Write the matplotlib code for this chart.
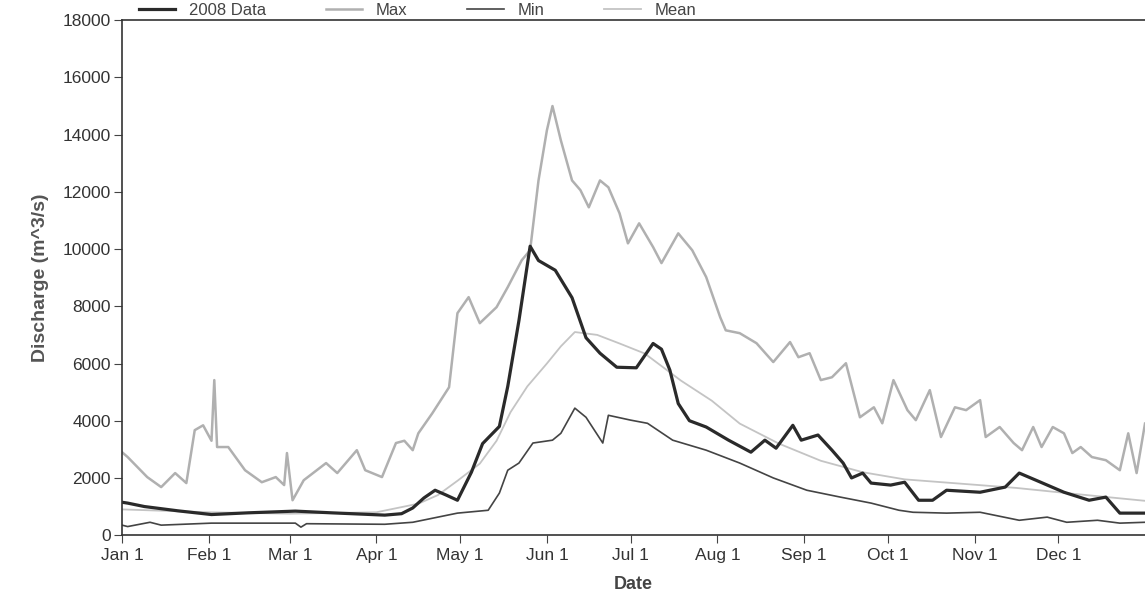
import matplotlib
matplotlib.use("Agg")
from matplotlib import pyplot as plt

plt.rcParams['font.family'] = ['Liberation Sans', 'DejaVu Sans']

# month ticks (day of year, 2008)
month_days = [0, 31, 60, 91, 121, 152, 182, 213, 244, 274, 305, 335]
month_labels = ["Jan 1", "Feb 1", "Mar 1", "Apr 1", "May 1", "Jun 1",
                "Jul 1", "Aug 1", "Sep 1", "Oct 1", "Nov 1", "Dec 1"]

# 2008 observed discharge
data_days = [0, 2, 8, 20, 32, 45, 62, 75, 94, 100, 104, 108, 112, 116, 120, 125,
             129, 135, 138, 142, 146, 149, 155, 161, 166, 171, 177, 184, 190, 193,
             196, 199, 203, 209, 217, 225, 230, 234, 240, 243, 249, 254, 258, 261,
             265, 268, 275, 280, 285, 290, 295, 307, 316, 321, 327, 337, 346, 352,
             357, 366]
data_vals = [1150, 1120, 1000, 850, 720, 780, 840, 780, 700, 750, 950, 1300, 1570,
             1400, 1220, 2200, 3200, 3800, 5200, 7500, 10100, 9600, 9260, 8300, 6900,
             6360, 5870, 5850, 6700, 6500, 5770, 4600, 4000, 3780, 3320, 2900, 3320,
             3040, 3840, 3320, 3500, 2970, 2520, 2000, 2170, 1820, 1750, 1850, 1220,
             1220, 1570, 1500, 1680, 2170, 1920, 1500, 1220, 1330, 770, 770]

# historical max
max_days = [0, 2, 9, 14, 19, 23, 26, 29, 32, 33, 34, 38, 44, 50, 55, 58, 59, 61, 65,
            73, 77, 84, 87, 93, 98, 101, 104, 106, 111, 117, 120, 124, 128, 134, 138,
            143, 146, 149, 152, 154, 157, 161, 164, 167, 171, 174, 178, 181, 185, 190,
            193, 199, 204, 209, 214, 216, 221, 227, 233, 239, 242, 246, 250, 254, 259,
            264, 269, 272, 276, 281, 284, 289, 293, 298, 302, 307, 309, 314, 319, 322,
            326, 329, 333, 337, 340, 343, 347, 352, 357, 360, 363, 366]
max_vals = [2900, 2730, 2030, 1680, 2170, 1820, 3670, 3840, 3300, 5420, 3080, 3080,
            2270, 1850, 2030, 1750, 2870, 1220, 1920, 2520, 2170, 2970, 2270, 2030,
            3220, 3300, 2970, 3560, 4260, 5170, 7760, 8320, 7410, 7970, 8670, 9610,
            9960, 12400, 14150, 15000, 13800, 12400, 12060, 11460, 12400, 12160, 11250,
            10200, 10900, 10070, 9510, 10550, 9960, 9020, 7620, 7160, 7060, 6710, 6050,
            6750, 6220, 6360, 5420, 5520, 6010, 4120, 4470, 3910, 5420, 4370, 4020,
            5070, 3430, 4470, 4370, 4720, 3430, 3780, 3220, 2970, 3780, 3080, 3780,
            3560, 2870, 3080, 2730, 2620, 2270, 3560, 2170, 3900]

# historical min
min_days = [0, 2, 10, 14, 32, 62, 64, 66, 94, 104, 120, 131, 135, 138, 142, 147, 154,
            157, 162, 166, 172, 174, 182, 188, 197, 209, 221, 233, 245, 257, 268, 278,
            283, 295, 307, 321, 331, 338, 349, 357, 366]
min_vals = [350, 300, 450, 350, 420, 420, 280, 400, 380, 450, 770, 870, 1470, 2270,
            2520, 3220, 3320, 3560, 4440, 4120, 3220, 4190, 4020, 3910, 3320, 2970,
            2520, 2000, 1570, 1330, 1120, 870, 800, 770, 800, 520, 630, 450, 520, 420,
            450]

# historical mean
mean_days = [0, 31, 60, 91, 106, 113, 120, 128, 134, 139, 145, 152, 157, 162, 170,
             178, 187, 200, 211, 221, 235, 250, 265, 280, 300, 320, 340, 366]
mean_vals = [900, 800, 750, 800, 1100, 1400, 1900, 2500, 3300, 4300, 5200, 6000, 6600,
             7100, 7000, 6700, 6350, 5400, 4700, 3900, 3200, 2600, 2200, 1950, 1800,
             1650, 1450, 1200]

fig = plt.figure(figsize=(11.45, 6.13), dpi=100)
ax = fig.add_axes([0.1066, 0.127, 0.8934, 0.840])

ax.plot(max_days, max_vals, color='#b0b0b0', lw=1.8, label='Max')
ax.plot(mean_days, mean_vals, color='#c4c4c4', lw=1.3, label='Mean')
ax.plot(min_days, min_vals, color='#444444', lw=1.2, label='Min')
ax.plot(data_days, data_vals, color='#2a2a2a', lw=2.3, label='2008 Data')

ax.set_xlim(0, 366)
ax.set_ylim(0, 18000)
ax.set_yticks(range(0, 18001, 2000))
ax.set_xticks(month_days)
ax.set_xticklabels(month_labels)
ax.tick_params(axis='both', direction='out', labelsize=12.5, colors='#444444',
               labelcolor='#333333', length=6)
ax.tick_params(axis='y', pad=2)
ax.spines['right'].set_visible(False)
for s in ['left', 'bottom', 'top']:
    ax.spines[s].set_color('#333333')
    ax.spines[s].set_linewidth(1.2)

ax.set_xlabel('Date', fontsize=13, fontweight='bold', color='#444444', labelpad=9)
ax.set_ylabel('Discharge (m^3/s)', fontsize=14, fontweight='bold', color='#555555',
              labelpad=10)

handles, labels = ax.get_legend_handles_labels()
order = [3, 0, 2, 1]
fig.legend([handles[i] for i in order], [labels[i] for i in order],
           loc='upper left', bbox_to_anchor=(0.108, 1.02), ncol=4, frameon=False,
           fontsize=12, handlelength=2.2, columnspacing=3.6,
           labelcolor='#444444')

fig.savefig('out.png', dpi=100)
